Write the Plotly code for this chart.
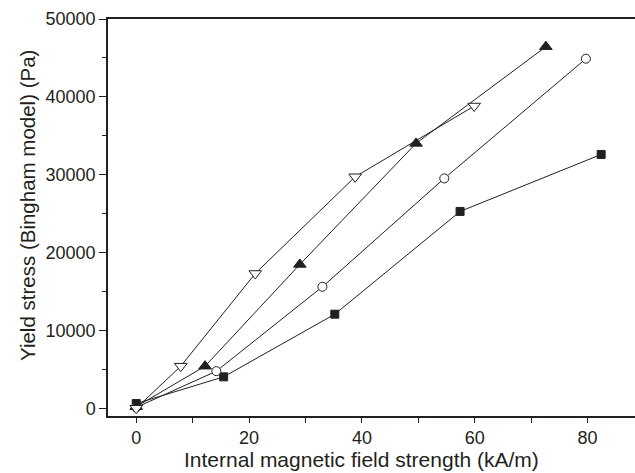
import plotly.graph_objects as go

# Internal magnetic field strength (kA/m) and yield stress (Pa) for four samples
x_square = [0, 15.5, 35.2, 57.4, 82.4]
y_square = [600, 4030, 12080, 25280, 32600]

x_circle = [0, 14.2, 33.0, 54.6, 79.7]
y_circle = [100, 4760, 15600, 29520, 44900]

x_tri_up = [0, 12.2, 29.0, 49.6, 72.6]
y_tri_up = [200, 5400, 18470, 34020, 46440]

x_tri_down = [0, 7.9, 21.1, 38.8, 59.9]
y_tri_down = [0, 5400, 17310, 29730, 38820]

x_ticks = [0, 20, 40, 60, 80]
y_ticks = [0, 10000, 20000, 30000, 40000, 50000]
y_tick_text = ["0", "10000", "20000", "30000", "40000", "50000"]

ink = "#231f20"
font_family = "Liberation Sans, Arial, sans-serif"

fig = go.Figure()

series = [
    (x_square, y_square, "square", ink, ink, 8),
    (x_circle, y_circle, "circle", "white", ink, 9),
    (x_tri_up, y_tri_up, "triangle-up", ink, ink, 11),
    (x_tri_down, y_tri_down, "triangle-down", "white", ink, 11),
]
for xs, ys, sym, fill, edge, size in series:
    fig.add_trace(go.Scatter(
        x=xs, y=ys, mode="lines+markers",
        line=dict(color=ink, width=1),
        marker=dict(symbol=sym, size=size, color=fill,
                    line=dict(color=edge, width=1)),
        showlegend=False, cliponaxis=False,
    ))

fig.update_layout(
    width=635, height=473,
    margin=dict(l=108, r=0, t=19, b=57),
    paper_bgcolor="white", plot_bgcolor="white",
    font=dict(family=font_family, color=ink, size=18),
    xaxis=dict(
        range=[-5, 88.4], tickvals=x_ticks, ticks="outside", ticklen=5,
        tickwidth=1, tickcolor=ink, showline=True, linecolor=ink, linewidth=1.5,
        mirror=True, showgrid=False, zeroline=False,
        tickfont=dict(size=18),
        minor=dict(tickvals=[10, 30, 50, 70], ticks="outside", ticklen=5, tickcolor=ink),
    ),
    yaxis=dict(
        range=[-1000, 50000], tickvals=y_ticks, ticktext=y_tick_text,
        ticks="outside", ticklen=7,
        tickwidth=1, tickcolor=ink, showline=True, linecolor=ink, linewidth=1.5,
        showgrid=False, zeroline=False, tickfont=dict(size=18),
        minor=dict(tickvals=[5000, 15000, 25000, 35000, 45000], ticks="outside",
                   ticklen=4, tickcolor=ink),
    ),
    annotations=[
        dict(text="Internal magnetic field strength (kA/m)", xref="paper", yref="paper",
             x=(361 - 108) / 527, y=-(460 - 416) / 397, xanchor="center", yanchor="middle",
             showarrow=False, font=dict(size=21, color=ink)),
        dict(text="Yield stress (Bingham model) (Pa)", xref="paper", yref="paper",
             x=-(108 - 27) / 527, y=(416 - 206) / 397, xanchor="center", yanchor="middle",
             textangle=-90, showarrow=False, font=dict(size=20.5, color=ink)),
    ],
)

fig.write_html("out.html",
               config={"displayModeBar": False},
               post_script="document.documentElement.style.overflow='hidden';"
                           "document.body.style.margin='0';document.body.style.overflow='hidden';")
